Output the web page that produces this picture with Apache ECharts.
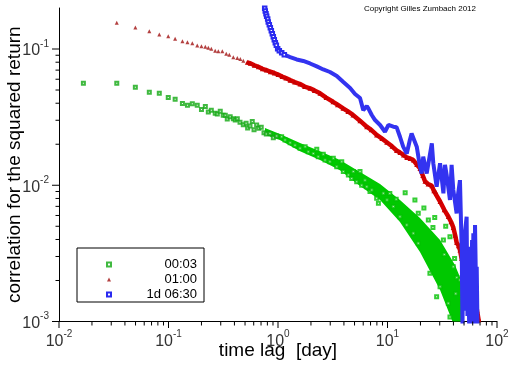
<!DOCTYPE html>
<html><head><meta charset="utf-8">
<script src="https://cdn.jsdelivr.net/npm/echarts@6/dist/echarts.min.js"></script>
<style>html,body{margin:0;padding:0;background:#fff}#c{width:512px;height:366px}</style>
</head><body><div id="c"></div>
<script>
// ---------- data ----------
const seriesNames = ['00:03', '01:00', '1d 06:30'];

// 00:03 — sparse points
const greenLag = [0.0167,0.0337,0.0498,0.0668,0.0824,0.0995,0.115,0.134,0.149,0.165,0.183,0.2,0.217,0.231,0.246,0.267,0.279,0.297,0.316,0.330,0.344,0.366,0.391,0.407,0.425,0.450,0.482,0.511,0.528,0.555,0.582,0.604,0.638,0.667,0.703,0.745,0.782,0.845,0.906,0.973];
const greenCorr = [0.056,0.056,0.0524,0.0481,0.0473,0.044,0.0428,0.0399,0.0386,0.0397,0.0386,0.036,0.0378,0.0345,0.0355,0.0337,0.0333,0.0349,0.0326,0.0326,0.0306,0.0318,0.0308,0.0301,0.0308,0.029,0.0278,0.0285,0.0263,0.0272,0.0294,0.0255,0.0277,0.0262,0.0266,0.0243,0.0238,0.024,0.0223,0.023];
// 00:03 — individual points in the dense cloud
const greenCloudLag = [1.08,1.16,1.29,1.43,1.59,1.77,1.89,2.10,2.26,2.33,2.59,2.69,2.98,3.20,3.44,3.82,3.95,4.39,4.71,4.87,5.23,5.61,5.81,6.23,6.47,6.92,7.19,7.96,8.26,9.16,9.9,10.5,11.3,12.0,13.0,14.5,15.0,17.2,17.8,19.1,19.1,21.5,23.6,26.0,27.0,32.4,33.0,34.0,37.2,30.2,28.1,35.9,37.2,24.4,39.9,41.0,42.0,43.0,45.9];
const greenCloudCorr = [0.0227,0.0215,0.0205,0.0197,0.0187,0.0192,0.0176,0.0171,0.0184,0.0162,0.0169,0.0153,0.0149,0.0158,0.0137,0.0149,0.0126,0.0119,0.0112,0.0126,0.0106,0.0126,0.01,0.0109,0.00975,0.00898,0.00923,0.00802,0.00738,0.00873,0.00781,0.0087,0.00697,0.0079,0.00588,0.0088,0.00511,0.00444,0.00781,0.00622,0.00375,0.0068,0.00556,0.0049,0.0058,0.00396,0.0031,0.005,0.00419,0.0018,0.00152,0.00136,0.00108,0.00226,0.00252,0.0029,0.0016,0.0021,0.00202];
// 00:03 — extent of the dense cloud (upper / lower edge)
const greenBandLag = [0.76,1.04,1.59,2.42,3.68,5.61,8.55,13.0,19.8,30.2,41.3,47.9];
const greenBandHigh = [0.0263,0.0238,0.0204,0.0178,0.0153,0.0125,0.0102,0.0078,0.00575,0.00396,0.0026,0.00195];
const greenBandLow = [0.0234,0.0215,0.0178,0.0153,0.0129,0.00986,0.0078,0.00537,0.00324,0.0017,0.0009,0.0009];

// 01:00 — sparse points
const redLag = [0.0337,0.0498,0.0668,0.0824,0.0995,0.115,0.134,0.149,0.165,0.183,0.2,0.217,0.231,0.246,0.267,0.285,0.31,0.337,0.359,0.391,0.425,0.453,0.482];
const redCorr = [0.156,0.144,0.135,0.128,0.124,0.119,0.114,0.112,0.110,0.106,0.105,0.104,0.102,0.1005,0.0973,0.0962,0.0962,0.0925,0.0908,0.0869,0.0859,0.0845,0.082];
// 01:00 — dense part
const redDenseLag = [0.525,0.558,0.608,0.661,0.72,0.782,0.851,0.925,1.0,1.09,1.18,1.29,1.42,1.59,1.75,1.96,2.15,2.42,2.75,3.18,3.5,3.93,4.35,4.84,5.6,6.46,7.1,7.96,8.9,9.84,11.0,12.1,13.0,14.0,15.0,16.1,17.2,18.5,19.8,21.0,22.0,23.5,25.4,26.5,27.5,30.2,33.0,35.9,38.0,39.9,41.5,42.8,44.5,45.9,47.5,49.2,51.0,52.8,54.7,56.7,58.7,60.8,62.3,63.7,65.6,67.5,68.5];
const redDenseCorr = [0.0798,0.0785,0.0760,0.0741,0.0716,0.0701,0.0681,0.0667,0.0650,0.0628,0.0612,0.0591,0.0572,0.0553,0.0530,0.0515,0.0497,0.0473,0.0440,0.0410,0.0390,0.0367,0.0348,0.0328,0.0298,0.0269,0.0255,0.0234,0.0220,0.0207,0.0193,0.0180,0.0174,0.0167,0.0160,0.0157,0.0153,0.0142,0.0133,0.0118,0.0107,0.0102,0.0099,0.0091,0.0090,0.0076,0.0066,0.0059,0.0054,0.0049,0.0043,0.0038,0.0036,0.00335,0.0029,0.0026,0.0024,0.00219,0.0020,0.00195,0.0018,0.0017,0.00155,0.00144,0.00121,0.00106,0.00098];

// 1d 06:30 — steep start
const blueTopLag = [0.756,0.765,0.777,0.788,0.805,0.815,0.833,0.851,0.869,0.887,0.906,0.925,0.945,0.966,0.993,1.028,1.081,1.142];
const blueTopCorr = [0.199,0.190,0.1815,0.1738,0.166,0.158,0.1507,0.1432,0.136,0.1294,0.123,0.117,0.111,0.1064,0.1005,0.0973,0.094,0.0908];
// 1d 06:30 — rest
const blueLag = [1.142,1.29,1.48,1.70,1.96,2.26,2.59,2.98,3.44,3.95,4.55,5.05,5.61,6.01,6.47,6.68,7.18,7.69,8.55,9.48,10.2,11.3,12.1,13.0,13.9,15.0,16.0,16.6,17.2,18.5,19.8,20.5,21.2,22.8,25.4,26.2,28.1,30.2,32.4,33.5,34.7,37.2,38.5,39.9,42.8,44.0,45.9,47.6,48.4,49.2,50.0,51.0,52.8,53.7,54.7,55.7,56.7,57.9,59.2,60.0,60.8,61.7,63.0,64.3,65.3,66.4];
const blueCorr = [0.0908,0.0873,0.0838,0.0817,0.0783,0.0745,0.0708,0.0678,0.0634,0.0573,0.0518,0.0468,0.0437,0.0356,0.0382,0.0367,0.0328,0.0301,0.0277,0.0247,0.0277,0.0269,0.0267,0.0227,0.0192,0.0171,0.0215,0.024,0.0234,0.0192,0.0137,0.0122,0.0162,0.0122,0.0203,0.0145,0.00975,0.0145,0.00873,0.0141,0.0119,0.00781,0.0141,0.00923,0.00622,0.00847,0.0109,0.00335,0.0009,0.00444,0.0012,0.0045,0.00588,0.0011,0.00282,0.0009,0.00354,0.0009,0.00396,0.0012,0.00444,0.0009,0.00511,0.0018,0.00252,0.0009];

// axes
const xMin = 0.01, xMax = 100, yMin = 0.001, yMax = 0.2;
const xDecades = [0.01, 0.1, 1, 10, 100];
const yDecades = [0.001, 0.01, 0.1];
const minorMult = [2, 3, 4, 5, 6, 7, 8, 9];

// ---------- build ----------
const zip = (a, b) => a.map((v, i) => [v, b[i]]);
const xTicks = [], yTicks = [];
xDecades.forEach(d => { xTicks.push([d, yMin, 1]); if (d < xMax) minorMult.forEach(m => xTicks.push([d * m, yMin, 0])); });
yDecades.forEach(d => { yTicks.push([xMin, d, 1]); minorMult.forEach(m => { if (d * m < yMax) yTicks.push([xMin, d * m, 0]); }); });

const FONT = 'Liberation Sans';
function powLabel(v) {
  const e = Math.round(Math.log10(v));
  if (Math.abs(Math.log10(v) - e) > 1e-6) return '';
  return '{b|10}{s|' + (e < 0 ? '-' + (-e) : e) + '}';
}
const labelRich = {
  b: { fontSize: 16, fontFamily: FONT, color: '#333', lineHeight: 20, verticalAlign: 'bottom' },
  s: { fontSize: 10, fontFamily: FONT, color: '#333', lineHeight: 20, verticalAlign: 'top' }
};

const chart = echarts.init(document.getElementById('c'), null, { renderer: 'canvas' });
chart.setOption({
  animation: false,
  backgroundColor: '#fff',
  title: {
    text: 'Copyright Gilles Zumbach 2012', right: 31, top: 0,
    textStyle: { fontSize: 8, fontWeight: 'normal', color: '#000', fontFamily: FONT }
  },
  legend: {
    orient: 'vertical', left: 77, top: 248,
    padding: [10, 7, 1, 29], itemGap: 2,
    borderColor: '#000', borderWidth: 1, backgroundColor: '#fff',
    itemWidth: 4, itemHeight: 4,
    selectedMode: false,
    data: [
      { name: seriesNames[0], icon: 'emptyRect' },
      { name: seriesNames[1], icon: 'triangle' },
      { name: seriesNames[2], icon: 'emptyRect' }
    ],
    formatter: n => '{a|' + n + '}',
    textStyle: { rich: { a: { width: 81, align: 'right', fontSize: 13, lineHeight: 15, fontFamily: FONT, color: '#000' } } }
  },
  grid: { left: 59, right: 15, top: 8, bottom: 44.5, containLabel: false, outerBoundsMode: 'none' },
  xAxis: {
    type: 'log', logBase: 10, min: xMin, max: xMax,
    name: 'time lag  [day]', nameLocation: 'middle', nameGap: 20, nameMoveOverlap: false,
    nameTextStyle: { fontSize: 19, color: '#000', fontFamily: FONT },
    axisLine: { lineStyle: { color: '#000', width: 1 } },
    axisTick: { show: false }, splitLine: { show: false }, minorTick: { show: false },
    axisLabel: { margin: 8, formatter: powLabel, rich: labelRich, showMinLabel: true, showMaxLabel: true, hideOverlap: false }
  },
  yAxis: {
    type: 'log', logBase: 10, min: yMin, max: yMax,
    name: 'correlation for the squared return', nameLocation: 'middle', nameGap: 35, nameMoveOverlap: false,
    nameTextStyle: { fontSize: 19, color: '#000', fontFamily: FONT },
    axisLine: { lineStyle: { color: '#000', width: 1 } },
    axisTick: { show: false }, splitLine: { show: false }, minorTick: { show: false },
    axisLabel: { margin: 10, formatter: powLabel, rich: labelRich, hideOverlap: false }
  },
  series: [
    { // green cloud extent
      type: 'custom', clip: true, silent: true, z: 1,
      data: [[greenBandLag[0], greenBandHigh[0]]],
      renderItem: function (params, api) {
        const pts = greenBandLag.map((x, i) => api.coord([x, greenBandHigh[i]]));
        for (let i = greenBandLag.length - 1; i >= 0; i--) pts.push(api.coord([greenBandLag[i], greenBandLow[i]]));
        return { type: 'polygon', shape: { points: pts }, style: { fill: '#00c800' } };
      }
    },
    {
      name: seriesNames[0], type: 'scatter', z: 2,
      symbol: 'emptyRect', symbolSize: 3,
      itemStyle: { color: '#10a810', borderWidth: 1 },
      data: zip(greenLag, greenCorr)
    },
    {
      type: 'scatter', z: 2, symbol: 'emptyRect', symbolSize: 3,
      itemStyle: { color: '#00c000', borderWidth: 1 },
      data: zip(greenCloudLag, greenCloudCorr)
    },
    {
      name: seriesNames[1], type: 'scatter', z: 3,
      symbol: 'triangle', symbolSize: 4,
      itemStyle: { color: '#a01010' },
      data: zip(redLag, redCorr)
    },
    {
      type: 'line', z: 3, clip: true,
      symbol: 'triangle', symbolSize: 5, showAllSymbol: true,
      itemStyle: { color: '#c80000' },
      lineStyle: { color: '#d80000', width: 4.5 },
      data: zip(redDenseLag, redDenseCorr)
    },
    {
      name: seriesNames[2], type: 'line', z: 4, clip: true,
      symbol: 'emptyRect', symbolSize: 3.5, showAllSymbol: true,
      itemStyle: { color: '#2a2af0', borderWidth: 1 },
      lineStyle: { color: '#2a2af0', width: 1 },
      data: zip(blueTopLag, blueTopCorr)
    },
    {
      type: 'line', z: 4, clip: true,
      symbol: 'none',
      lineStyle: { color: '#3333f0', width: 4 },
      data: zip(blueLag, blueCorr)
    },
    { // x-axis tick marks
      type: 'custom', clip: false, silent: true, z: 5,
      data: xTicks,
      renderItem: function (params, api) {
        const p = api.coord([api.value(0), api.value(1)]);
        const len = api.value(2) ? 6.5 : 4;
        return { type: 'line', shape: { x1: p[0], y1: p[1], x2: p[0], y2: p[1] + len }, style: { stroke: '#000', lineWidth: 1 } };
      }
    },
    { // y-axis tick marks
      type: 'custom', clip: false, silent: true, z: 5,
      data: yTicks,
      renderItem: function (params, api) {
        const p = api.coord([api.value(0), api.value(1)]);
        const len = api.value(2) ? 7 : 3.5;
        return { type: 'line', shape: { x1: p[0] - len, y1: p[1], x2: p[0], y2: p[1] }, style: { stroke: '#000', lineWidth: 1 } };
      }
    }
  ]
});
</script>
</body></html>
